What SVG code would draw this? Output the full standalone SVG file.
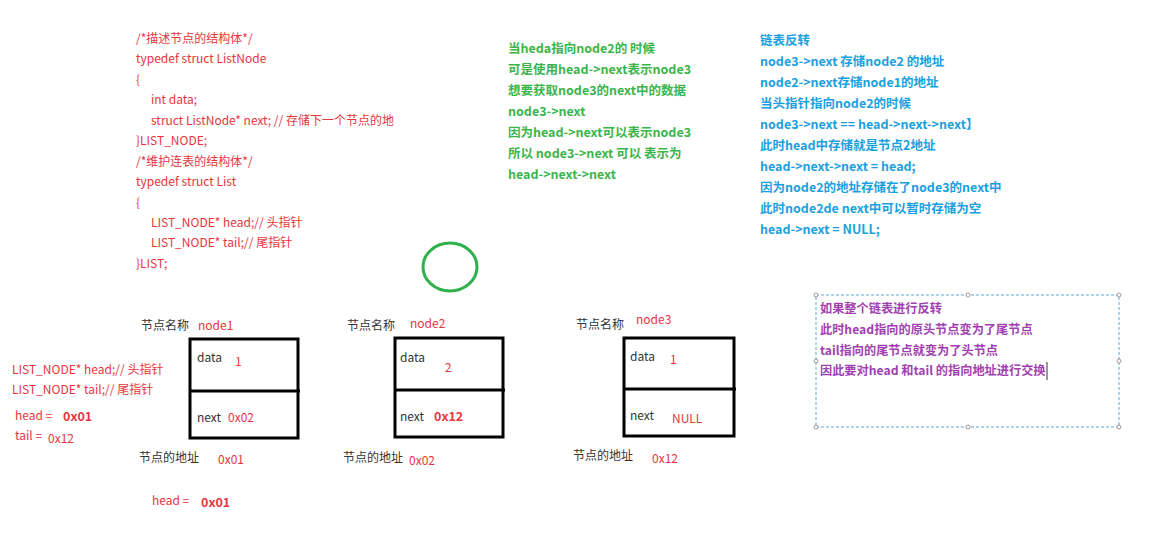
<svg xmlns="http://www.w3.org/2000/svg" width="1174" height="539" viewBox="0 0 1174 539">
<style>
text{font-family:"Noto Sans CJK SC","Noto Sans",sans-serif;}
.r{fill:#e8353d;font-size:12px;}
.rb{fill:#e8353d;font-size:12.5px;font-weight:bold;}
.g{fill:#3ab54a;font-size:12.5px;font-weight:bold;}
.b{fill:#1a9fe0;font-size:12.5px;font-weight:bold;}
.p{fill:#a23fb0;font-size:12.2px;font-weight:bold;}
.k{fill:#333;font-size:12px;}
.box{fill:none;stroke:#000;stroke-width:3;}
.h{fill:#fff;stroke:#999;stroke-width:1;}
</style>
<rect width="1174" height="539" fill="#fff"/>
<g id="code" class="r">
<text x="136" y="43" class="r">/*描述节点的结构体*/</text>
<text x="136" y="63" class="r">typedef struct ListNode</text>
<text x="136" y="84" class="r">{</text>
<text x="151" y="104" class="r">int data;</text>
<text x="151" y="125" class="r">struct ListNode* next; // 存储下一个节点的地</text>
<text x="136" y="145" class="r">}LIST_NODE;</text>
<text x="136" y="166" class="r">/*维护连表的结构体*/</text>
<text x="136" y="186" class="r">typedef struct List</text>
<text x="136" y="207" class="r">{</text>
<text x="151" y="227" class="r">LIST_NODE* head;// 头指针</text>
<text x="151" y="247" class="r">LIST_NODE* tail;// 尾指针</text>
<text x="136" y="268" class="r">}LIST;</text>
</g>
<g id="green-note">
<text x="508" y="53" class="g">当heda指向node2的 时候</text>
<text x="508" y="74" class="g">可是使用head-&gt;next表示node3</text>
<text x="508" y="95" class="g">想要获取node3的next中的数据</text>
<text x="508" y="116" class="g">node3-&gt;next</text>
<text x="508" y="137" class="g">因为head-&gt;next可以表示node3</text>
<text x="508" y="158" class="g">所以 node3-&gt;next 可以 表示为</text>
<text x="508" y="179" class="g">head-&gt;next-&gt;next</text>
</g>
<g id="blue-note">
<text x="760" y="45" class="b">链表反转</text>
<text x="760" y="66" class="b">node3-&gt;next 存储node2 的地址</text>
<text x="760" y="87" class="b">node2-&gt;next存储node1的地址</text>
<text x="760" y="108" class="b">当头指针指向node2的时候</text>
<text x="760" y="129" class="b">node3-&gt;next == head-&gt;next-&gt;next】</text>
<text x="760" y="150" class="b">此时head中存储就是节点2地址</text>
<text x="760" y="171" class="b">head-&gt;next-&gt;next = head;</text>
<text x="760" y="192" class="b">因为node2的地址存储在了node3的next中</text>
<text x="760" y="213" class="b">此时node2de next中可以暂时存储为空</text>
<text x="760" y="234" class="b">head-&gt;next = NULL;</text>
</g>
<g id="circle">
<ellipse cx="450" cy="267" rx="27" ry="24" fill="none" stroke="#2eb04a" stroke-width="3"/>
</g>
<g id="purple-note">
<rect x="816" y="295" width="303" height="132" fill="none" stroke="#5aa8d8" stroke-width="1" stroke-dasharray="3,2"/>
<circle cx="816" cy="295" r="2" class="h"/><circle cx="968" cy="295" r="2" class="h"/><circle cx="1119" cy="295" r="2" class="h"/>
<circle cx="816" cy="361" r="2" class="h"/><circle cx="1119" cy="361" r="2" class="h"/>
<circle cx="816" cy="427" r="2" class="h"/><circle cx="968" cy="427" r="2" class="h"/><circle cx="1119" cy="427" r="2" class="h"/>
<text x="820" y="313" class="p">如果整个链表进行反转</text>
<text x="820" y="334" class="p">此时head指向的原头节点变为了尾节点</text>
<text x="820" y="355" class="p">tail指向的尾节点就变为了头节点</text>
<text x="820" y="375" class="p">因此要对head 和tail 的指向地址进行交换</text>
<line x1="1047" y1="362" x2="1047" y2="380" stroke="#333" stroke-width="1"/>
</g>
<g id="list-vars">
<text x="12" y="374" class="r">LIST_NODE* head;// 头指针</text>
<text x="12" y="394" class="r">LIST_NODE* tail;// 尾指针</text>
<text x="15" y="420" class="r">head =</text>
<text x="63" y="421" class="rb">0x01</text>
<text x="15" y="440" class="r">tail =</text>
<text x="48" y="443" class="r">0x12</text>
<text x="152" y="505" class="r">head =</text>
<text x="201" y="507" class="rb">0x01</text>
</g>
<g id="node1">
<text x="141" y="330" class="k">节点名称</text>
<text x="198" y="330" class="r">node1</text>
<rect x="190" y="339" width="108" height="99" class="box"/>
<line x1="190" y1="391" x2="300" y2="391" stroke="#000" stroke-width="3"/>
<text x="197" y="362" class="k">data</text>
<text x="235" y="366" class="r">1</text>
<text x="197" y="422" class="k">next</text>
<text x="228" y="422" class="r">0x02</text>
<text x="139" y="462" class="k">节点的地址</text>
<text x="218" y="464" class="r">0x01</text>
</g>
<g id="node2">
<text x="347" y="330" class="k">节点名称</text>
<text x="410" y="328" class="r">node2</text>
<rect x="395" y="338" width="108" height="99" class="box"/>
<line x1="395" y1="390" x2="505" y2="390" stroke="#000" stroke-width="3"/>
<text x="400" y="362" class="k">data</text>
<text x="445" y="372" class="r">2</text>
<text x="400" y="421" class="k">next</text>
<text x="434" y="421" class="rb">0x12</text>
<text x="343" y="462" class="k">节点的地址</text>
<text x="409" y="465" class="r">0x02</text>
</g>
<g id="node3">
<text x="576" y="329" class="k">节点名称</text>
<text x="636" y="324" class="r">node3</text>
<rect x="624" y="338" width="110" height="98" class="box"/>
<line x1="624" y1="389" x2="736" y2="389" stroke="#000" stroke-width="3"/>
<text x="630" y="361" class="k">data</text>
<text x="670" y="364" class="r">1</text>
<text x="630" y="420" class="k">next</text>
<text x="672" y="423" class="r">NULL</text>
<text x="573" y="460" class="k">节点的地址</text>
<text x="652" y="463" class="r">0x12</text>
</g>
<g id="connectors"></g>
</svg>
